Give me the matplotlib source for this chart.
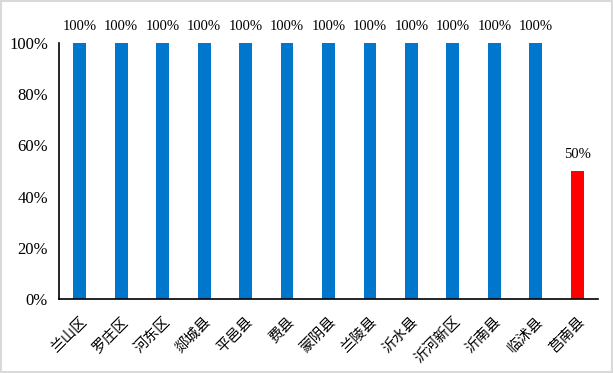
import matplotlib
matplotlib.use('Agg')
import matplotlib.pyplot as plt
from matplotlib.ticker import FuncFormatter

# categories and values (share, %)
counties = ['兰山区', '罗庄区', '河东区', '郯城县', '平邑县', '费县', '蒙阴县',
            '兰陵县', '沂水县', '沂河新区', '沂南县', '临沭县', '莒南县']
rates = [100, 100, 100, 100, 100, 100, 100, 100, 100, 100, 100, 100, 50]
colors = ['#0077CC'] * 12 + ['#FF0000']

plt.rcParams['font.family'] = ['Liberation Serif', 'Noto Sans CJK SC', 'DejaVu Sans']

fig = plt.figure(figsize=(6.13, 3.73), dpi=100)
ax = fig.add_axes([0.0963, 0.1984, 0.8792, 0.6863])

x = range(len(counties))
bars = ax.bar(x, rates, width=0.31, color=colors)

for b, r in zip(bars, rates):
    ax.annotate('%d%%' % r, (b.get_x() + b.get_width() / 2, r),
                xytext=(0, 7), textcoords='offset points',
                ha='center', va='bottom', fontsize=10.5)

ax.set_ylim(0, 100)
ax.set_xlim(-0.5, len(counties) - 0.5)
ax.set_yticks(range(0, 101, 20))
ax.yaxis.set_major_formatter(FuncFormatter(lambda v, p: '%d%%' % v))
ax.tick_params(axis='y', length=0, labelsize=12, pad=8)
ax.tick_params(axis='x', length=0, pad=11)
ax.set_xticks(list(x))
ax.set_xticklabels(counties, rotation=45, ha='right', va='top',
                   rotation_mode='anchor', fontsize=10.5,
                   family=['Noto Sans CJK SC', 'DejaVu Sans'])

for s in ['top', 'right']:
    ax.spines[s].set_visible(False)
ax.spines['left'].set_linewidth(1.2)
ax.spines['bottom'].set_linewidth(1.2)

# light grey frame round the whole chart
fig.patches.append(plt.Rectangle((0.002, 0.003), 0.996, 0.994, transform=fig.transFigure,
                                 fill=False, edgecolor='#D9D9D9', linewidth=1.5))

fig.savefig('out.png', dpi=100)
